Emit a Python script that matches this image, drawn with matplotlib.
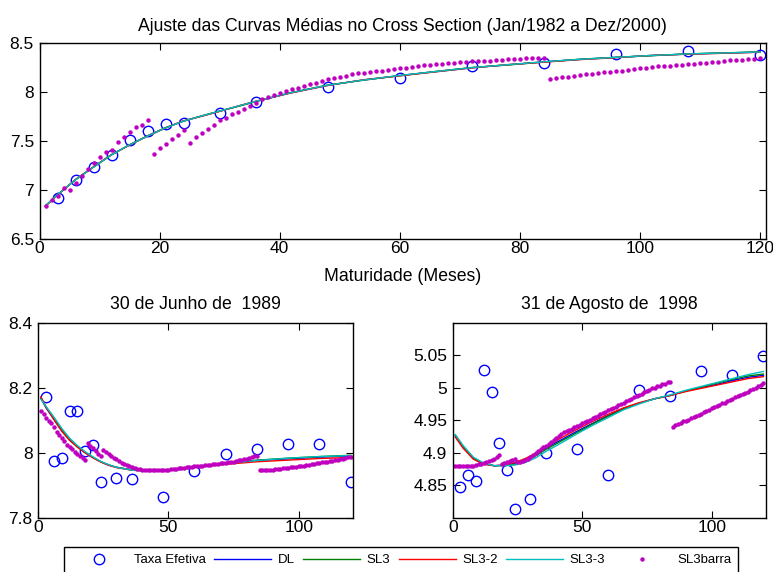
import matplotlib
matplotlib.use("Agg")
import matplotlib.pyplot as plt
from matplotlib.ticker import FormatStrFormatter
from matplotlib.lines import Line2D

plt.rcParams['font.family'] = ['Liberation Sans', 'DejaVu Sans']

# ---------------- Observed effective rates (Taxa Efetiva) ----------------
obs_mat = [3, 6, 9, 12, 15, 18, 21, 24, 30, 36, 48, 60, 72, 84, 96, 108, 120]
obs_media = [6.92, 7.10, 7.23, 7.36, 7.51, 7.60, 7.67, 7.68, 7.79, 7.90,
             8.05, 8.14, 8.27, 8.30, 8.39, 8.42, 8.38]
obs_jun89 = [8.171, 7.974, 7.985, 8.130, 8.130, 8.006, 8.024, 7.910, 7.923,
             7.919, 7.864, 7.943, 7.997, 8.010, 8.027, 8.027, 7.910]
obs_ago98 = [4.847, 4.865, 4.857, 5.028, 4.994, 4.915, 4.874, 4.814, 4.828,
             4.899, 4.905, 4.866, 4.996, 4.987, 5.026, 5.020, 5.049]

# ---------------- Fitted curves: average cross section ----------------
fit_mat_media = [1, 3, 6, 9, 12, 15, 18, 21, 24, 27, 30, 33, 36, 42, 48, 54,
                 60, 66, 72, 78, 84, 90, 96, 102, 108, 114, 120]
dl_media = [6.835, 6.950, 7.105, 7.235, 7.360, 7.460, 7.550, 7.635, 7.705,
            7.755, 7.805, 7.855, 7.905, 7.995, 8.070, 8.125, 8.170, 8.210,
            8.250, 8.280, 8.310, 8.335, 8.355, 8.375, 8.390, 8.400, 8.410]
sl3_media = [6.838, 6.952, 7.103, 7.232, 7.358, 7.462, 7.553, 7.637, 7.703,
             7.757, 7.807, 7.853, 7.903, 7.997, 8.072, 8.123, 8.168, 8.212,
             8.252, 8.278, 8.308, 8.337, 8.357, 8.373, 8.392, 8.402, 8.412]
sl32_media = [6.832, 6.947, 7.107, 7.237, 7.362, 7.458, 7.552, 7.633, 7.707,
              7.753, 7.803, 7.857, 7.907, 7.993, 8.068, 8.127, 8.167, 8.208,
              8.248, 8.282, 8.307, 8.333, 8.353, 8.377, 8.388, 8.398, 8.408]
sl33_media = [6.836, 6.951, 7.104, 7.234, 7.359, 7.461, 7.551, 7.634, 7.704,
              7.756, 7.806, 7.856, 7.906, 7.996, 8.071, 8.124, 8.171, 8.211,
              8.251, 8.281, 8.311, 8.336, 8.356, 8.376, 8.391, 8.401, 8.411]

# ---------------- Fitted curves: 30/06/1989 ----------------
fit_mat_jun89 = [1, 3, 6, 9, 12, 15, 18, 21, 24, 27, 30, 36, 42, 48, 54, 60,
                 72, 84, 96, 108, 120]
dl_jun89 = [8.168, 8.138, 8.103, 8.068, 8.040, 8.019, 8.000, 7.985, 7.972,
            7.962, 7.955, 7.947, 7.944, 7.945, 7.948, 7.955, 7.967, 7.976,
            7.981, 7.986, 7.990]
sl3_jun89 = [8.170, 8.141, 8.106, 8.071, 8.042, 8.020, 8.001, 7.986, 7.972,
             7.962, 7.955, 7.946, 7.943, 7.945, 7.949, 7.956, 7.968, 7.977,
             7.983, 7.988, 7.992]
sl32_jun89 = [8.172, 8.140, 8.102, 8.066, 8.038, 8.017, 7.999, 7.984, 7.971,
              7.961, 7.954, 7.946, 7.944, 7.946, 7.950, 7.955, 7.964, 7.972,
              7.977, 7.982, 7.985]
sl33_jun89 = [8.165, 8.142, 8.110, 8.075, 8.045, 8.022, 8.003, 7.987, 7.973,
              7.963, 7.955, 7.946, 7.943, 7.944, 7.948, 7.954, 7.966, 7.976,
              7.983, 7.988, 7.991]

# ---------------- Fitted curves: 31/08/1998 ----------------
fit_mat_ago98 = [1, 4, 8, 12, 16, 20, 24, 28, 32, 36, 42, 48, 54, 60, 66, 72,
                 78, 84, 90, 96, 102, 108, 114, 120]
dl_ago98 = [4.926, 4.909, 4.891, 4.883, 4.880, 4.881, 4.884, 4.889, 4.897,
            4.907, 4.920, 4.933, 4.945, 4.957, 4.968, 4.976, 4.983, 4.988,
            4.995, 5.000, 5.005, 5.011, 5.016, 5.019]
sl3_ago98 = [4.927, 4.910, 4.892, 4.883, 4.880, 4.880, 4.882, 4.887, 4.895,
             4.905, 4.918, 4.931, 4.944, 4.956, 4.967, 4.976, 4.983, 4.988,
             4.995, 5.001, 5.007, 5.013, 5.018, 5.021]
sl32_ago98 = [4.924, 4.907, 4.890, 4.882, 4.880, 4.881, 4.885, 4.891, 4.899,
              4.909, 4.923, 4.936, 4.948, 4.959, 4.969, 4.977, 4.983, 4.988,
              4.994, 4.999, 5.004, 5.009, 5.014, 5.017]
sl33_ago98 = [4.928, 4.911, 4.893, 4.884, 4.880, 4.880, 4.881, 4.885, 4.892,
              4.902, 4.915, 4.929, 4.942, 4.954, 4.966, 4.975, 4.983, 4.989,
              4.996, 5.002, 5.008, 5.014, 5.020, 5.025]

# ---------------- SL3barra: monthly maturities 1..120 ----------------
barra_mat = list(range(1, 121))
barra_media = [
    # 1-18
    6.83, 6.90, 6.94, 7.02, 7.00, 7.07, 7.14, 7.21, 7.27, 7.34, 7.39, 7.41,
    7.49, 7.54, 7.59, 7.64, 7.66, 7.71,
    # 19-24
    7.37, 7.43, 7.47, 7.52, 7.56, 7.61,
    # 25-84
    7.48, 7.54, 7.58, 7.62, 7.66, 7.71, 7.74, 7.78, 7.80, 7.83, 7.86, 7.886,
    7.927, 7.947, 7.974, 7.994, 8.015, 8.035, 8.045, 8.066, 8.080, 8.097,
    8.117, 8.130, 8.148, 8.158, 8.170, 8.186, 8.193, 8.200, 8.210, 8.220,
    8.217, 8.227, 8.234, 8.244, 8.250, 8.260, 8.268, 8.275, 8.278, 8.285,
    8.290, 8.295, 8.300, 8.305, 8.310, 8.319, 8.319, 8.320, 8.320, 8.330,
    8.330, 8.336, 8.340, 8.340, 8.345, 8.345, 8.348, 8.345,
    # 85-120
    8.130, 8.140, 8.150, 8.160, 8.165, 8.175, 8.185, 8.190, 8.200, 8.205,
    8.210, 8.215, 8.220, 8.230, 8.240, 8.245, 8.250, 8.260, 8.265, 8.270,
    8.270, 8.275, 8.280, 8.285, 8.290, 8.295, 8.300, 8.305, 8.310, 8.320,
    8.325, 8.330, 8.330, 8.335, 8.340, 8.345]
barra_jun89 = [
    # 1-18
    8.130, 8.118, 8.108, 8.097, 8.090, 8.078, 8.065, 8.055, 8.045, 8.035,
    8.025, 8.017, 8.010, 8.003, 7.996, 7.990, 7.984, 7.978,
    # 19-24
    8.029, 8.022, 8.013, 8.005, 7.997, 7.990,
    # 25-84
    8.008, 8.002, 7.997, 7.991, 7.985, 7.979, 7.974, 7.969, 7.965, 7.961,
    7.958, 7.955, 7.953, 7.951, 7.950, 7.948, 7.947, 7.947, 7.946, 7.946,
    7.946, 7.946, 7.946, 7.947, 7.947, 7.948, 7.949, 7.950, 7.951, 7.952,
    7.953, 7.954, 7.955, 7.956, 7.957, 7.958, 7.958, 7.959, 7.960, 7.961,
    7.962, 7.963, 7.964, 7.965, 7.966, 7.967, 7.968, 7.969, 7.970, 7.971,
    7.972, 7.974, 7.976, 7.978, 7.980, 7.982, 7.985, 7.987, 7.989, 7.991,
    # 85-120
    7.946, 7.946, 7.946, 7.947, 7.947, 7.948, 7.949, 7.950, 7.951, 7.952,
    7.953, 7.954, 7.955, 7.956, 7.957, 7.958, 7.959, 7.960, 7.962, 7.963,
    7.965, 7.966, 7.967, 7.968, 7.970, 7.971, 7.972, 7.974, 7.975, 7.977,
    7.978, 7.980, 7.982, 7.984, 7.986, 7.988]
barra_ago98 = [
    # 1-18
    4.880, 4.880, 4.880, 4.880, 4.880, 4.880, 4.880, 4.880, 4.881, 4.882,
    4.883, 4.884, 4.886, 4.887, 4.889, 4.891, 4.893, 4.896,
    # 19-24
    4.883, 4.884, 4.886, 4.887, 4.889, 4.890,
    # 25-84
    4.885, 4.886, 4.888, 4.889, 4.891, 4.893, 4.896, 4.899, 4.902, 4.905,
    4.908, 4.911, 4.914, 4.917, 4.920, 4.923, 4.926, 4.929, 4.932, 4.933,
    4.935, 4.937, 4.939, 4.941, 4.943, 4.945, 4.947, 4.949, 4.951, 4.953,
    4.955, 4.957, 4.959, 4.961, 4.963, 4.965, 4.967, 4.969, 4.971, 4.973,
    4.975, 4.977, 4.979, 4.981, 4.983, 4.985, 4.987, 4.989, 4.991, 4.993,
    4.995, 4.997, 4.999, 5.000, 5.002, 5.003, 5.005, 5.006, 5.008, 5.009,
    # 85-120
    4.940, 4.942, 4.944, 4.946, 4.948, 4.949, 4.951, 4.953, 4.955, 4.957,
    4.958, 4.960, 4.962, 4.964, 4.966, 4.968, 4.970, 4.972, 4.974, 4.976,
    4.977, 4.979, 4.981, 4.983, 4.985, 4.987, 4.989, 4.991, 4.992, 4.994,
    4.996, 4.998, 5.000, 5.002, 5.004, 5.007]

# ---------------- Styling ----------------
C_OBS = '#0000FF'
C_DL = '#0000FF'
C_SL3 = '#008000'
C_SL32 = '#FF0000'
C_SL33 = '#00BFBF'
C_BARRA = '#BF00BF'
LW = 1.0
TICK_FS = 12.5
TITLE_FS = 12.7

fig = plt.figure(figsize=(7.73, 5.72), dpi=100)
fig.patch.set_facecolor('white')

W, H = 773.0, 572.0


def axes_px(left, top, right, bottom):
    return fig.add_axes([left / W, 1 - bottom / H, (right - left) / W, (bottom - top) / H])


def style(ax, yticks, xticks, ylim):
    ax.set_xlim(0, 121)
    ax.set_ylim(*ylim)
    ax.set_xticks(xticks)
    ax.set_yticks(yticks)
    ax.yaxis.set_major_formatter(FormatStrFormatter('%g'))
    ax.tick_params(direction='in', length=5, width=0.8, top=True, right=True,
                   labelsize=TICK_FS, colors='black')
    ax.tick_params(axis='x', pad=2)
    ax.tick_params(axis='y', pad=4)
    for s in ax.spines.values():
        s.set_linewidth(1.0)
        s.set_color('black')


def draw_panel(ax, obs, fmat, dl, sl3, sl32, sl33, barra):
    ax.plot(obs_mat, obs, linestyle='none', marker='o', markersize=7.5,
            markerfacecolor='none', markeredgecolor=C_OBS, markeredgewidth=1.0)
    ax.plot(fmat, dl, color=C_DL, lw=LW)
    ax.plot(fmat, sl3, color=C_SL3, lw=LW)
    ax.plot(fmat, sl32, color=C_SL32, lw=LW)
    ax.plot(fmat, sl33, color=C_SL33, lw=LW)
    ax.plot(barra_mat, barra, linestyle='none', marker='o', markersize=3.2,
            markerfacecolor=C_BARRA, markeredgecolor=C_BARRA, markeredgewidth=0)


# Top panel: average curves
ax1 = axes_px(39.5, 43.3, 766, 238.7)
draw_panel(ax1, obs_media, fit_mat_media, dl_media, sl3_media, sl32_media,
           sl33_media, barra_media)
style(ax1, [6.5, 7, 7.5, 8, 8.5], [0, 20, 40, 60, 80, 100, 120], (6.5, 8.5))
ax1.set_title('Ajuste das Curvas Médias no Cross Section (Jan/1982 a Dez/2000)',
              fontsize=TITLE_FS, pad=9)
ax1.set_xlabel('Maturidade (Meses)', fontsize=TITLE_FS, labelpad=8)

# Bottom-left: 30/06/1989
ax2 = axes_px(38.3, 323, 353.3, 517.5)
draw_panel(ax2, obs_jun89, fit_mat_jun89, dl_jun89, sl3_jun89, sl32_jun89,
           sl33_jun89, barra_jun89)
style(ax2, [7.8, 8.0, 8.2, 8.4], [0, 50, 100], (7.8, 8.4))
ax2.set_title('30 de Junho de  1989', fontsize=TITLE_FS, pad=10)

# Bottom-right: 31/08/1998
ax3 = axes_px(452.7, 322.7, 766, 517.7)
draw_panel(ax3, obs_ago98, fit_mat_ago98, dl_ago98, sl3_ago98, sl32_ago98,
           sl33_ago98, barra_ago98)
style(ax3, [4.85, 4.90, 4.95, 5.00, 5.05], [0, 50, 100], (4.80, 5.10))
ax3.set_title('31 de Agosto de  1998', fontsize=TITLE_FS, pad=10)

# Shared legend along the bottom
handles = [
    Line2D([], [], linestyle='none', marker='o', markersize=7.5,
           markerfacecolor='none', markeredgecolor=C_OBS, markeredgewidth=1.0),
    Line2D([], [], color=C_DL, lw=LW),
    Line2D([], [], color=C_SL3, lw=LW),
    Line2D([], [], color=C_SL32, lw=LW),
    Line2D([], [], color=C_SL33, lw=LW),
    Line2D([], [], linestyle='none', marker='o', markersize=3.2,
           markerfacecolor=C_BARRA, markeredgecolor=C_BARRA, markeredgewidth=0),
]
labels = ['Taxa Efetiva', 'DL', 'SL3', 'SL3-2', 'SL3-3', 'SL3barra']
leg = fig.legend(handles, labels, loc='upper left', ncol=6, mode='expand',
                 bbox_to_anchor=(64 / W, 1 - 547.3 / H - 0.1, (738 - 64) / W, 0.1),
                 fontsize=9.5, handlelength=4.3, handletextpad=0.5,
                 columnspacing=0.9, borderpad=0.5, borderaxespad=0,
                 frameon=True, fancybox=False, shadow=False, numpoints=1,
                 framealpha=1)
leg.get_frame().set_edgecolor('black')
leg.get_frame().set_linewidth(1.0)

fig.savefig('out.png', dpi=100, facecolor='white')
